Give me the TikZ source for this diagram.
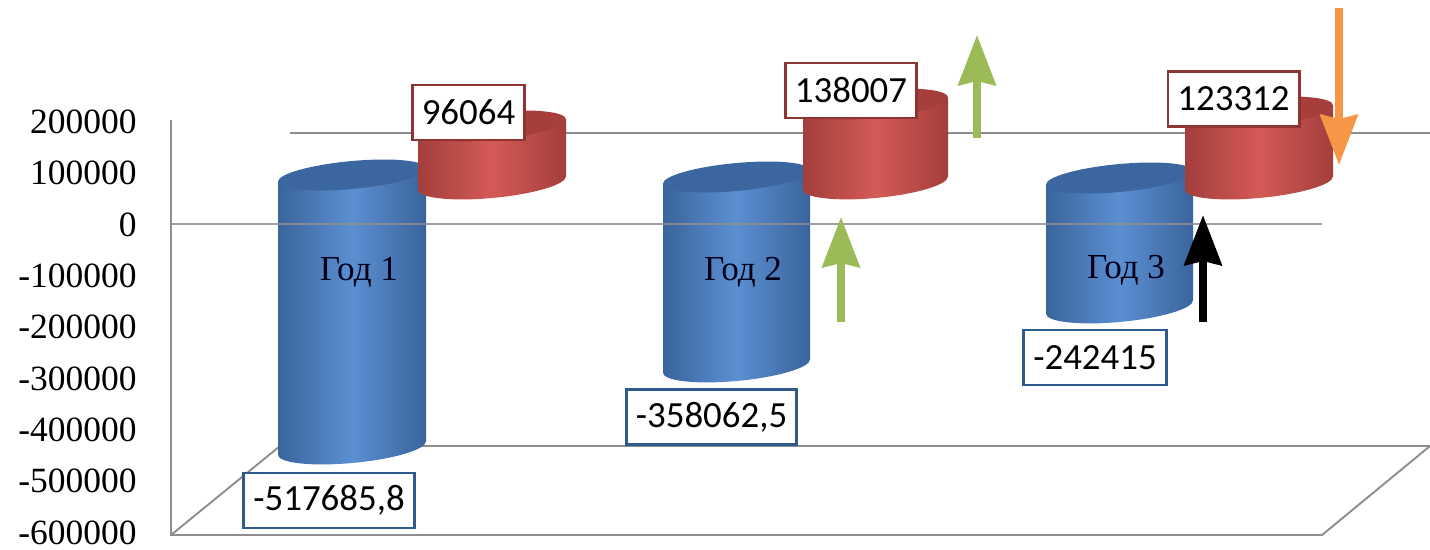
\documentclass[tikz,border=0pt]{standalone}
\usepackage{fontspec}
\setmainfont{Liberation Serif}
\newfontfamily\lblfont{Carlito}
\usetikzlibrary{arrows.meta, positioning}

\definecolor{blueSide}{HTML}{3A649C}
\definecolor{blueMid}{HTML}{5B8FD2}
\definecolor{blueTop}{HTML}{3C669F}
\definecolor{redSide}{HTML}{A33E3B}
\definecolor{redMid}{HTML}{D45A57}
\definecolor{redTop}{HTML}{A63F3C}
\definecolor{gridGray}{HTML}{8E8E8E}
\definecolor{lblBlue}{HTML}{2F5A8C}
\definecolor{lblRed}{HTML}{8E3533}
\definecolor{upGreen}{HTML}{9BBB59}
\definecolor{downOrange}{HTML}{F79646}

% #1 centre x, #2 top y, #3 bottom y, #4 half width, #5 edge colour, #6 middle colour, #7 top colour
\newcommand{\drawcyl}[7]{%
  \begin{scope}[shift={(#1,0)}, yslant=0.09]
    \path[left color=#5, right color=#5, middle color=#6]
      (-#4,#2) -- (-#4,#3) arc[start angle=180, end angle=0, x radius=#4, y radius=15] -- (#4,#2) -- cycle;
    \fill[#7] (0,#2) ellipse[x radius=#4, y radius=14];
  \end{scope}}

\begin{document}
\begin{tikzpicture}[x=0.02cm, y=-0.02cm]
  \tikzset{>={Stealth[length=1cm, width=0.74cm, inset=0.08cm]},
    gridline/.style={draw=gridGray, line width=1.1pt},
    tick/.style={anchor=east, inner sep=0pt, font=\fontsize{20.2}{24}\selectfont},
    yearlbl/.style={text=black!90!blue, font=\fontsize{20}{23}\selectfont},
    vallbl/.style={fill=white, line width=1.6pt, inner xsep=0.19cm, inner ysep=0pt,
      minimum height=1.1cm, font=\lblfont\fontsize{21}{24}\selectfont},
    arrowline/.style={->, line width=0.16cm}}

  \useasboundingbox (0,0) rectangle (1430,549);

  % axis and floor
  \coordinate (axtop) at (171,120);
  \coordinate (fl) at (171,535);
  \coordinate (fr) at (1322,535);
  \coordinate (bl) at (280,446);
  \coordinate (br) at (1430,446);
  \draw[gridline] (axtop) -- (fl) -- (fr) -- (br) -- (bl) -- (fl);

  \foreach \v [count=\i from 0] in {200000,100000,0,-100000,-200000,-300000,-400000,-500000,-600000}
    \node[tick] (tick\i) at (137,{122+\i*51.3}) {\v};

  % grid line behind the red cylinders
  \coordinate (gtl) at (290,133);
  \coordinate (gtr) at (1430,133);
  \draw[gridline] (gtl) -- (gtr);

  % cylinders
  \drawcyl{352}{175}{448}{74}{blueSide}{blueMid}{blueTop}
  \drawcyl{736.5}{177}{366}{73.5}{blueSide}{blueMid}{blueTop}
  \drawcyl{1119.5}{178}{307}{73.5}{blueSide}{blueMid}{blueTop}
  \drawcyl{492}{126}{183}{74}{redSide}{redMid}{redTop}
  \drawcyl{875.5}{104}{183}{72.5}{redSide}{redMid}{redTop}
  \drawcyl{1259}{112}{183}{74}{redSide}{redMid}{redTop}

  % zero line
  \coordinate (gzl) at (171,224);
  \coordinate (gzr) at (1322,224);
  \draw[gridline, opacity=0.85] (gzl) -- (gzr);

  \node[yearlbl] (year1) at (359,272) {Год 1};
  \node[yearlbl] (year2) at (743,272) {Год 2};
  \node[yearlbl] (year3) at (1126,270) {Год 3};

  \node[vallbl, draw=lblBlue] (neg1) at (329,500.5) {-517685,8};
  \node[vallbl, draw=lblBlue] (neg2) at (711.5,417) {-358062,5};
  \node[vallbl, draw=lblBlue] (neg3) at (1095,357.5) {-242415};
  \node[vallbl, draw=lblRed] (pos1) at (468.5,112.5) {96064};
  \node[vallbl, draw=lblRed] (pos2) at (851,90.5) {138007};
  \node[vallbl, draw=lblRed] (pos3) at (1233.5,99) {123312};

  % arrows
  \coordinate (g1a) at (977,138);
  \coordinate (g1b) at (977,35);
  \coordinate (g2a) at (841,322);
  \coordinate (g2b) at (841,217);
  \coordinate (k1a) at (1203,322);
  \coordinate (k1b) at (1203,215);
  \coordinate (o1a) at (1339,8);
  \coordinate (o1b) at (1339,165);
  \draw[arrowline, upGreen] (g1a) -- (g1b);
  \draw[arrowline, upGreen] (g2a) -- (g2b);
  \draw[arrowline, black] (k1a) -- (k1b);
  \draw[arrowline, downOrange] (o1a) -- (o1b);
\end{tikzpicture}
\end{document}
